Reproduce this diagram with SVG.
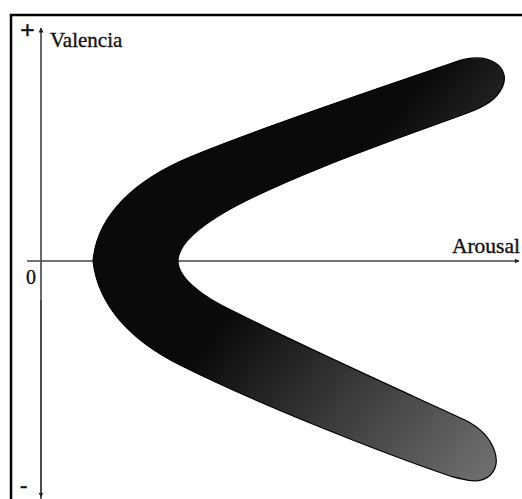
<svg xmlns="http://www.w3.org/2000/svg" width="522" height="499" viewBox="0 0 522 499">
<style>
.axis{stroke:#444;stroke-width:1.6;fill:none}
.lbl{font-family:"Liberation Serif","Times New Roman",serif;fill:#111;stroke:#111;stroke-width:0.35}
</style>
<defs>
<marker id="ah" viewBox="0 0 10 10" refX="9" refY="5" markerWidth="5" markerHeight="5" orient="auto-start-reverse" markerUnits="userSpaceOnUse">
<path d="M0,0 L10,5 L0,10 Z" fill="#222"/>
</marker>
<linearGradient id="g" gradientUnits="userSpaceOnUse" x1="250" y1="290" x2="480" y2="480">
<stop offset="0" stop-color="#0a0a0a"/>
<stop offset="1" stop-color="#6e6e6e"/>
</linearGradient>
</defs>
<rect x="0" y="0" width="522" height="499" fill="#fff"/>
<g id="frame"><path d="M11,499 V15 H522" fill="none" stroke="#000" stroke-width="2.5"/></g>
<g id="connectors">
<line class="axis" x1="41" y1="499" x2="41" y2="28" marker-end="url(#ah)"/>
<line class="axis" x1="41" y1="300" x2="41" y2="497" marker-end="url(#ah)"/>
<line class="axis" x1="27" y1="261" x2="519" y2="261" marker-end="url(#ah)"/>
</g>
<g id="boomerang">
<path d="M 93,261 C 97,215 135,180 190,157 C 270,124 380,88 455,62 C 490,50 512,68 502,88 C 496,100 485,106 470,112 C 400,138 290,175 225,212 C 196,229 178,245 178,261 C 178,277 200,296 235,312 C 300,345 400,390 465,420 C 495,435 505,465 488,477 C 478,484 465,480 450,476 C 380,452 260,405 180,365 C 130,340 98,305 93,261 Z" fill="url(#g)" stroke="#000" stroke-width="1.2"/>
</g>
<g id="labels">
<text class="lbl" x="20" y="39" font-size="26" font-weight="bold">+</text>
<text class="lbl" x="50" y="47" font-size="21">Valencia</text>
<text class="lbl" x="520" y="253" font-size="21.5" text-anchor="end">Arousal</text>
<text class="lbl" x="26" y="284" font-size="20">0</text>
<text class="lbl" x="20" y="492" font-size="22" font-weight="bold">-</text>
</g>
</svg>
